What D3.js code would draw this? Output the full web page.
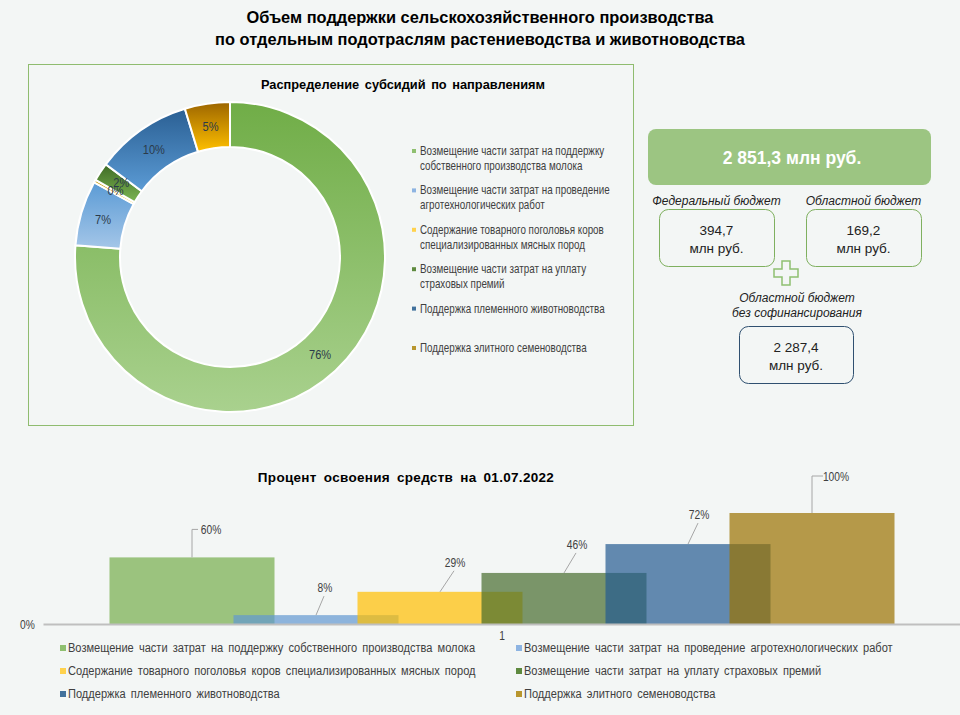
<!DOCTYPE html>
<html>
<head>
<meta charset="utf-8">
<script src="https://cdn.jsdelivr.net/npm/d3@7"></script>
<style>
    body { margin: 0; background: #f3f6f5; }
    svg { display: block; font-family: "Liberation Sans", Arial, sans-serif; }
</style>
</head>
<body>
<div id="chart"></div>
<script>
const categories = [
    'Возмещение части затрат на поддержку собственного производства молока',
    'Возмещение части затрат на проведение агротехнологических работ',
    'Содержание товарного поголовья коров специализированных мясных пород',
    'Возмещение части затрат на уплату страховых премий',
    'Поддержка племенного животноводства',
    'Поддержка элитного семеноводства'
];
const donutLegendLines = [
    ['Возмещение части затрат на поддержку', 'собственного производства молока'],
    ['Возмещение части затрат на проведение', 'агротехнологических работ'],
    ['Содержание товарного поголовья коров', 'специализированных мясных пород'],
    ['Возмещение части затрат на уплату', 'страховых премий'],
    ['Поддержка племенного животноводства'],
    ['Поддержка элитного семеноводства']
];
// доля субсидий, %
const shares = [76.2, 6.8, 0.3, 1.9, 10.1, 4.7];
// процент освоения на 01.07.2022
const progress = [0.60, 0.08, 0.29, 0.46, 0.72, 1.00];
const barCategory = ['1'];

const pieColors = [
    ['#70ad47', '#a9d18e'],
    ['#5b9bd5', '#a4c6e8'],
    ['#bf9000', '#ffc000'],
    ['#3f6b25', '#7cb552'],
    ['#2a5f93', '#5b9bd5'],
    ['#9c6500', '#ffc000']
];
const barColors = ['#75ae4c', '#6198d2', '#ffbf00', '#466c2d', '#245b91', '#9a7200'];
const legendColors = ['#8fc070', '#8db4e2', '#ffd24d', '#5e8a3f', '#41719c', '#b8962e'];

const budgetTotal = '2 851,3 млн руб.';
const budgetNames = [['Федеральный бюджет'], ['Областной бюджет'], ['Областной бюджет', 'без софинансирования']];
const budgetValues = ['394,7', '169,2', '2 287,4'];

const width = 960, height = 715;
// узкий шрифт (как Arial Narrow) - сжимаем Liberation Sans по горизонтали
const squeeze = 0.82;
const place = (x, y) => 'translate(' + x + ',' + y + ') scale(' + squeeze + ',1)';

const svg = d3.select('#chart').append('svg')
    .attr('width', width)
    .attr('height', height);

svg.append('rect').attr('width', width).attr('height', height).attr('fill', '#f3f6f5');

// заголовок
svg.append('text')
    .attr('x', 480).attr('y', 23)
    .attr('text-anchor', 'middle')
    .attr('font-size', 16.4).attr('font-weight', 'bold')
    .selectAll('tspan')
    .data(['Объем поддержки сельскохозяйственного производства', 'по отдельным подотраслям растениеводства и животноводства'])
    .enter().append('tspan')
    .attr('x', 480)
    .attr('dy', (d, i) => i ? 22 : 0)
    .text(d => d);

// ---- кольцевая диаграмма ----
svg.append('rect')
    .attr('x', 28.5).attr('y', 64.5)
    .attr('width', 605).attr('height', 361)
    .attr('fill', 'none')
    .attr('stroke', '#8fbc6f');

svg.append('text')
    .attr('x', 403).attr('y', 89)
    .attr('text-anchor', 'middle')
    .attr('font-size', 12.8).attr('font-weight', 'bold')
    .attr('word-spacing', 2)
    .text('Распределение субсидий по направлениям');

const defs = svg.append('defs');
pieColors.forEach((c, i) => {
    const g = defs.append('linearGradient')
        .attr('id', 'pg' + i)
        .attr('x1', 0).attr('y1', 0).attr('x2', 0).attr('y2', 1);
    g.append('stop').attr('offset', '0%').attr('stop-color', c[0]);
    g.append('stop').attr('offset', '100%').attr('stop-color', c[1]);
});

const pieData = d3.pie().sort(null).value(d => d)(shares);
const arc = d3.arc().innerRadius(110).outerRadius(155);
const donut = svg.append('g').attr('transform', 'translate(230,257)');

donut.selectAll('path')
    .data(pieData)
    .enter()
    .append('path')
    .attr('d', arc)
    .attr('fill', (d, i) => 'url(#pg' + i + ')')
    .attr('stroke', '#ffffff')
    .attr('stroke-width', 2);

const labelShift = [[0, 0], [0, 0], [1, -2], [2, -2], [0, 0], [0, 0]];
donut.selectAll('text')
    .data(pieData)
    .enter()
    .append('text')
    .attr('transform', (d, i) => place(arc.centroid(d)[0] + labelShift[i][0], arc.centroid(d)[1] + labelShift[i][1] + 5))
    .attr('text-anchor', 'middle')
    .attr('font-size', 13.5)
    .attr('fill', '#2b3a4a')
    .text(d => Math.round(d.value) + '%');

const dItems = svg.append('g').selectAll('g')
    .data(donutLegendLines)
    .enter()
    .append('g')
    .attr('transform', (d, i) => 'translate(412,' + (153 + i * 39.4) + ')');

dItems.append('rect')
    .attr('x', 0).attr('y', -4)
    .attr('width', 4).attr('height', 4)
    .attr('fill', (d, i) => legendColors[i]);

dItems.append('text')
    .attr('transform', place(8, 2))
    .attr('font-size', 12)
    .attr('fill', '#404040')
    .selectAll('tspan')
    .data(d => d)
    .enter().append('tspan')
    .attr('x', 0)
    .attr('y', (d, i) => i * 15)
    .text(d => d);

// ---- бюджеты ----
const budget = svg.append('g');
budget.append('rect')
    .attr('x', 648).attr('y', 129)
    .attr('width', 283).attr('height', 56)
    .attr('rx', 8)
    .attr('fill', '#9cc582');
budget.append('text')
    .attr('x', 792).attr('y', 164)
    .attr('text-anchor', 'middle')
    .attr('font-size', 17.5).attr('font-weight', 'bold')
    .attr('fill', '#ffffff')
    .text(budgetTotal);

const boxes = [
    { x: 659, y: 209, w: 115, h: 57, stroke: '#7fb05f', ny: 205 },
    { x: 806, y: 209, w: 115, h: 57, stroke: '#7fb05f', ny: 205 },
    { x: 739, y: 326, w: 114, h: 57, stroke: '#2f5070', ny: 303 }
];

boxes.forEach((b, i) => {
    const cx = b.x + b.w / 2;
    budget.append('text')
        .attr('text-anchor', 'middle')
        .attr('font-size', 12).attr('font-style', 'italic')
        .attr('fill', '#222')
        .selectAll('tspan')
        .data(budgetNames[i])
        .enter().append('tspan')
        .attr('x', i === 2 ? cx + 1 : cx)
        .attr('y', (d, j) => b.ny - (budgetNames[i].length - 1 - j) * 15 + (i === 2 ? 14 : 0))
        .text(d => d);
    budget.append('rect')
        .attr('x', b.x + 0.5).attr('y', b.y + 0.5)
        .attr('width', b.w).attr('height', b.h)
        .attr('rx', 9)
        .attr('fill', '#f3f6f5')
        .attr('stroke', b.stroke);
    budget.append('text')
        .attr('text-anchor', 'middle')
        .attr('font-size', 13.5)
        .attr('fill', '#222')
        .selectAll('tspan')
        .data([budgetValues[i], 'млн руб.'])
        .enter().append('tspan')
        .attr('x', cx)
        .attr('y', (d, j) => b.y + 26 + j * 18)
        .text(d => d);
});

// плюс
const pc = [786, 273], a = 4, s = 12;
const cross = [[-a, -s], [a, -s], [a, -a], [s, -a], [s, a], [a, a], [a, s], [-a, s], [-a, a], [-s, a], [-s, -a], [-a, -a]];
budget.append('polygon')
    .attr('points', cross.map(p => (pc[0] + p[0]) + ',' + (pc[1] + p[1])).join(' '))
    .attr('fill', '#f3f6f5')
    .attr('stroke', '#8fc070')
    .attr('stroke-width', 1.5);

// ---- столбчатая диаграмма ----
svg.append('text')
    .attr('x', 406).attr('y', 482)
    .attr('text-anchor', 'middle')
    .attr('font-size', 13.5).attr('font-weight', 'bold')
    .attr('word-spacing', 3)
    .attr('letter-spacing', 0.3)
    .text('Процент освоения средств на 01.07.2022');

const x0 = d3.scaleBand().domain(barCategory).range([43, 961]);
const center = x0('1') + x0.bandwidth() / 2;
const barW = 165, step = 124;
const xs = d3.scaleLinear()
    .domain([0, categories.length - 1])
    .range([center - step * 2.5, center + step * 2.5]);
const y = d3.scaleLinear().domain([0, 1]).range([624, 513]);

const bars = svg.append('g');
bars.selectAll('rect')
    .data(progress)
    .enter()
    .append('rect')
    .attr('x', (d, i) => xs(i) - barW / 2)
    .attr('y', d => y(d))
    .attr('width', barW)
    .attr('height', d => y(0) - y(d))
    .attr('fill', (d, i) => barColors[i])
    .attr('fill-opacity', 0.7);

const xAxis = svg.append('g')
    .attr('transform', 'translate(0,' + y(0) + ')')
    .call(d3.axisBottom(x0).tickSize(0).tickPadding(7));
xAxis.select('.domain').attr('stroke', '#bfbfbf').attr('stroke-width', 2);
xAxis.selectAll('text')
    .attr('font-size', 12.5).attr('fill', '#404040')
    .attr('transform', 'scale(' + squeeze + ',1)');

const yAxis = svg.append('g')
    .attr('transform', 'translate(43,0)')
    .call(d3.axisLeft(y).tickValues([0]).tickSize(0).tickPadding(10).tickFormat(d3.format('.0%')));
yAxis.select('.domain').remove();
yAxis.selectAll('text')
    .attr('font-size', 12.5).attr('fill', '#404040')
    .attr('transform', 'scale(' + squeeze + ',1)');

// подписи с выносками: смещение подписи от верхней середины столбца
const labelOffsets = [[19, -27], [9, -27], [15, -29], [13, -28], [11, -29], [24, -36]];
const leader = (d, i) => {
    const bx = xs(i), by = y(d);
    const lx = bx + labelOffsets[i][0], ly = by + labelOffsets[i][1];
    if (i === 0 || i === 5) {
        return 'M' + bx + ',' + by + 'V' + (ly - 1) + 'H' + (lx - 13);
    }
    return 'M' + bx + ',' + by + 'L' + (lx - 1) + ',' + (ly + 8);
};
bars.selectAll('path')
    .data(progress)
    .enter()
    .append('path')
    .attr('d', leader)
    .attr('fill', 'none')
    .attr('stroke', '#a6a6a6');

bars.selectAll('text')
    .data(progress)
    .enter()
    .append('text')
    .attr('transform', (d, i) => place(xs(i) + labelOffsets[i][0], y(d) + labelOffsets[i][1] + 4))
    .attr('text-anchor', 'middle')
    .attr('font-size', 12.5)
    .attr('fill', '#404040')
    .text(d3.format('.0%'));

// легенда
const bLegend = svg.append('g').selectAll('g')
    .data(categories)
    .enter()
    .append('g')
    .attr('transform', (d, i) => 'translate(' + (i % 2 ? 516 : 60) + ',' + (650 + Math.floor(i / 2) * 23) + ')');

bLegend.append('rect')
    .attr('x', 0).attr('y', -5)
    .attr('width', 6).attr('height', 6)
    .attr('fill', (d, i) => legendColors[i]);

bLegend.append('text')
    .attr('transform', place(8, 2))
    .attr('font-size', 13.5)
    .attr('word-spacing', 2.5)
    .attr('fill', '#404040')
    .text(d => d);
</script>
</body>
</html>
